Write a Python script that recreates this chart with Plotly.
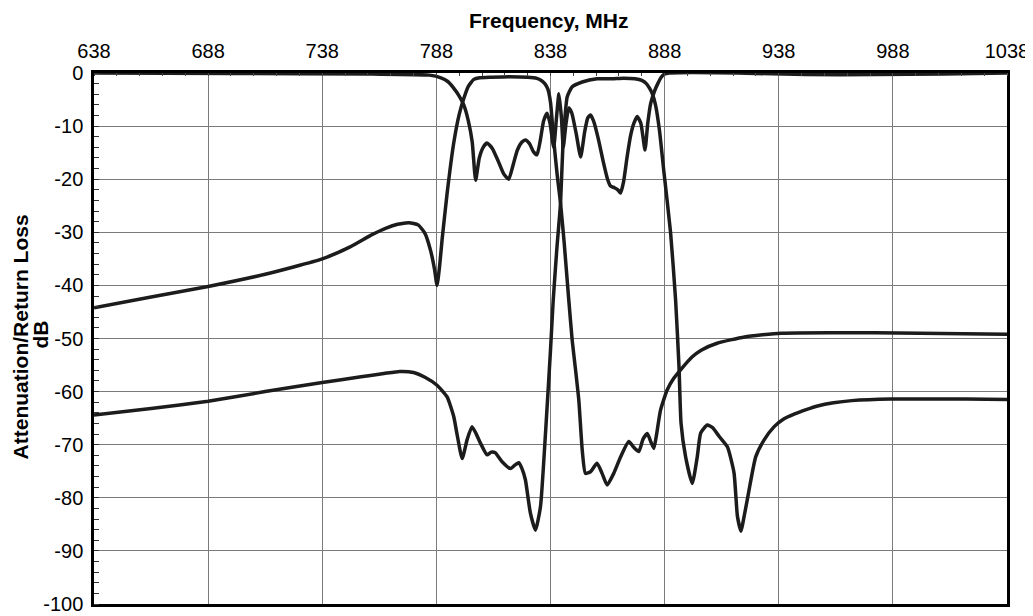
import plotly.graph_objects as go

# ---- Data ----
# Transmit (low-band) filter insertion loss, dB
tx_freq = [638, 663, 688, 713, 738, 750, 760, 766, 771, 776, 780, 783, 785.5, 787.2, 788.3,
           789.5, 790.5, 792.7, 795.6, 798, 800, 802, 804.4, 807, 812, 820, 828, 832, 834,
           835.5, 836.8, 838, 839.4, 841, 842.4, 844, 846, 847.5, 849, 850.4, 851.9, 853.3,
           855.5, 858.4, 860.6, 862.8, 865.7, 868.7, 872.3, 874.5, 876.7, 878.5, 880.4, 882,
           883.3, 884.5, 886.2, 889.1, 892, 895, 900, 904, 911, 923, 939, 960, 1000, 1038]
tx_db = [-44.2, -42.2, -40.2, -37.9, -35.0, -32.8, -30.4, -29.2, -28.5, -28.2, -28.6, -30.2,
         -33.5, -37.0, -40.0, -36.0, -31.4, -22.7, -13.2, -7.8, -4.8, -2.5, -1.2, -0.9, -0.8,
         -0.7, -0.8, -1.0, -1.4, -2.0, -3.0, -5.5, -12.6, -19.5, -24.5, -32.0, -42.7, -50.3,
         -56.0, -61.6, -71.0, -75.4, -75.1, -73.5, -75.4, -77.6, -75.4, -72.3, -69.4, -70.5,
         -71.3, -69.0, -67.9, -69.5, -70.7, -68.0, -63.5, -59.7, -57.5, -55.9, -53.5, -52.2,
         -50.9, -49.7, -49.0, -48.9, -49.0, -49.2]

# Receive (high-band) filter insertion loss, dB
rx_freq = [638, 663, 688, 713, 738, 755, 765, 772, 778, 783, 788.3, 792.7, 795.6, 797, 799.3,
           801.5, 803.6, 805.5, 807.3, 810.2, 812, 813.8, 816.8, 820.5, 822.5, 824.1, 825.5,
           827, 829.2, 831.4, 833.6, 835.8, 838, 839.2, 840.8, 842.4, 843.5, 844.5, 845.3,
           847.5, 851.9, 858.4, 865, 870, 875, 878, 880, 881.3, 882.5, 884, 885.8, 887.6,
           890.6, 892.8, 894.3, 895.2, 897.2, 900.1, 902.3, 903.8, 906.7, 909, 912, 915.5,
           918.4, 919.9, 921.5, 922.6, 924.2, 927.9, 931.6, 936, 940, 945, 950, 955, 962,
           970, 987, 1000, 1020, 1038]
rx_db = [-64.4, -63.2, -61.8, -60.0, -58.3, -57.2, -56.6, -56.2, -56.4, -57.3, -58.8, -61.0,
         -64.7, -67.9, -72.6, -69.0, -66.6, -68.0, -69.7, -71.9, -71.4, -71.5, -73.2, -74.5,
         -73.8, -73.4, -74.5, -76.6, -82.9, -86.1, -81.7, -67.9, -52.2, -42.7, -33.0, -24.5,
         -13.0, -7.5, -4.5, -2.6, -1.7, -1.1, -1.1, -1.0, -1.1, -1.4, -2.0, -2.8, -3.8, -6.0,
         -11.0, -18.3, -30.0, -42.7, -55.3, -66.0, -72.3, -77.3, -72.3, -67.8, -66.3, -66.8,
         -68.5, -70.4, -75.3, -83.5, -86.3, -84.0, -80.4, -72.3, -69.1, -66.6, -65.2, -64.2,
         -63.4, -62.7, -62.1, -61.7, -61.4, -61.4, -61.4, -61.5]

# Antenna-port return loss, dB
rl_freq = [638, 700, 760, 785, 790, 793, 795.5, 797.8, 800, 802, 803.7, 805.2, 806.8, 808.5,
           810.2, 812.5, 815, 817.5, 819.7, 821.5, 823.5, 825.5, 827, 828.8, 830.5, 832.1,
           833.6, 835, 836.5, 837.8, 839.4, 840.6, 841.7, 842.8, 843.6, 844.8,
           846, 847.3, 849.3, 851.2, 853, 854.3, 855.5, 857, 859, 861, 863, 864.3, 866,
           867.5, 868.7, 870, 871.5, 873, 874.5, 876, 877.6, 879.4, 880.6, 881.9, 883.5, 885,
           886.5, 888, 890, 900, 920, 950, 980, 1010, 1038]
rl_db = [0.0, -0.1, -0.2, -0.4, -0.9, -1.6, -2.8, -4.2, -6.0, -9.0, -13.0, -20.2, -16.0,
         -14.0, -13.2, -14.2, -16.5, -19.0, -20.0, -17.5, -14.5, -13.0, -12.6, -13.3, -14.8,
         -15.4, -12.5, -9.0, -7.6, -9.5, -14.0, -8.5, -3.9, -8.5, -14.0, -9.5,
         -6.6, -7.5, -11.5, -15.8, -11.0, -8.5, -7.9, -9.2, -12.5, -16.5, -20.0, -21.3,
         -21.6, -22.0, -22.6, -20.5, -16.0, -12.0, -9.5, -8.2, -9.5, -14.5, -9.5, -5.7,
         -3.5, -2.0, -0.8, -0.2, 0.0, 0.1, 0.0, -0.3, -0.3, -0.2, 0.0]

x_ticks = [638, 688, 738, 788, 838, 888, 938, 988, 1038]
y_ticks = [0, -10, -20, -30, -40, -50, -60, -70, -80, -90, -100]

x_title = "Frequency, MHz"
y_title = "Attenuation/Return Loss"
y_unit = "dB"

# ---- Figure ----
FONT = "Liberation Sans, Arial, Helvetica, sans-serif"
line_style = dict(color="#1c1c1c", width=3.5, shape="spline", smoothing=0.5)

fig = go.Figure()
for fx, fy in [(tx_freq, tx_db), (rx_freq, rx_db), (rl_freq, rl_db)]:
    fig.add_trace(go.Scatter(x=fx, y=fy, mode="lines", line=line_style,
                             showlegend=False, hoverinfo="x+y"))

# the page body adds an 8 px offset, so the figure is sized to compensate
fig.update_layout(
    width=1025, height=608,
    margin=dict(l=86, r=26, t=65, b=12, autoexpand=False),
    paper_bgcolor="white", plot_bgcolor="white",
    font=dict(family=FONT, size=20, color="black"),
    xaxis=dict(
        range=[638, 1038], side="top", tickmode="array", tickvals=x_ticks,
        ticktext=[str(v) for v in x_ticks], automargin=False,
        showgrid=True, gridcolor="#7a7a7a", gridwidth=1,
        showline=True, linecolor="black", linewidth=2.5, mirror=True,
        ticks="", zeroline=False,
        minor=dict(dtick=10, tick0=638, ticks="inside", ticklen=3, tickwidth=1,
                   tickcolor="#444", showgrid=False),
        tickfont=dict(family=FONT, size=20, color="black"),
        ticklabelstandoff=4,
    ),
    yaxis=dict(
        range=[-100, 0], tickmode="array", tickvals=y_ticks,
        ticktext=[str(v) for v in y_ticks], automargin=False,
        showgrid=True, gridcolor="#7a7a7a", gridwidth=1,
        showline=True, linecolor="black", linewidth=2.5, mirror=True,
        ticks="", zeroline=False,
        minor=dict(dtick=2, tick0=0, ticks="inside", ticklen=5, tickwidth=1.2,
                   tickcolor="#333", showgrid=False),
        tickfont=dict(family=FONT, size=20, color="black"),
        ticklabelstandoff=4,
    ),
    annotations=[
        dict(text="<b>" + x_title + "</b>", xref="paper", yref="paper",
             x=0.498, y=1.0998, xanchor="center", yanchor="middle", showarrow=False,
             font=dict(family=FONT, size=21, color="black")),
        dict(text="<b>" + y_title + "</b>", xref="paper", yref="paper",
             x=-0.0805, y=0.503, xanchor="center", yanchor="middle", showarrow=False,
             textangle=-90, font=dict(family=FONT, size=21, color="black")),
        dict(text="<b>" + y_unit + "</b>", xref="paper", yref="paper",
             x=-0.0585, y=0.5066, xanchor="center", yanchor="middle", showarrow=False,
             textangle=-90, font=dict(family=FONT, size=21, color="black")),
    ],
)

fig.write_html("out.html")
